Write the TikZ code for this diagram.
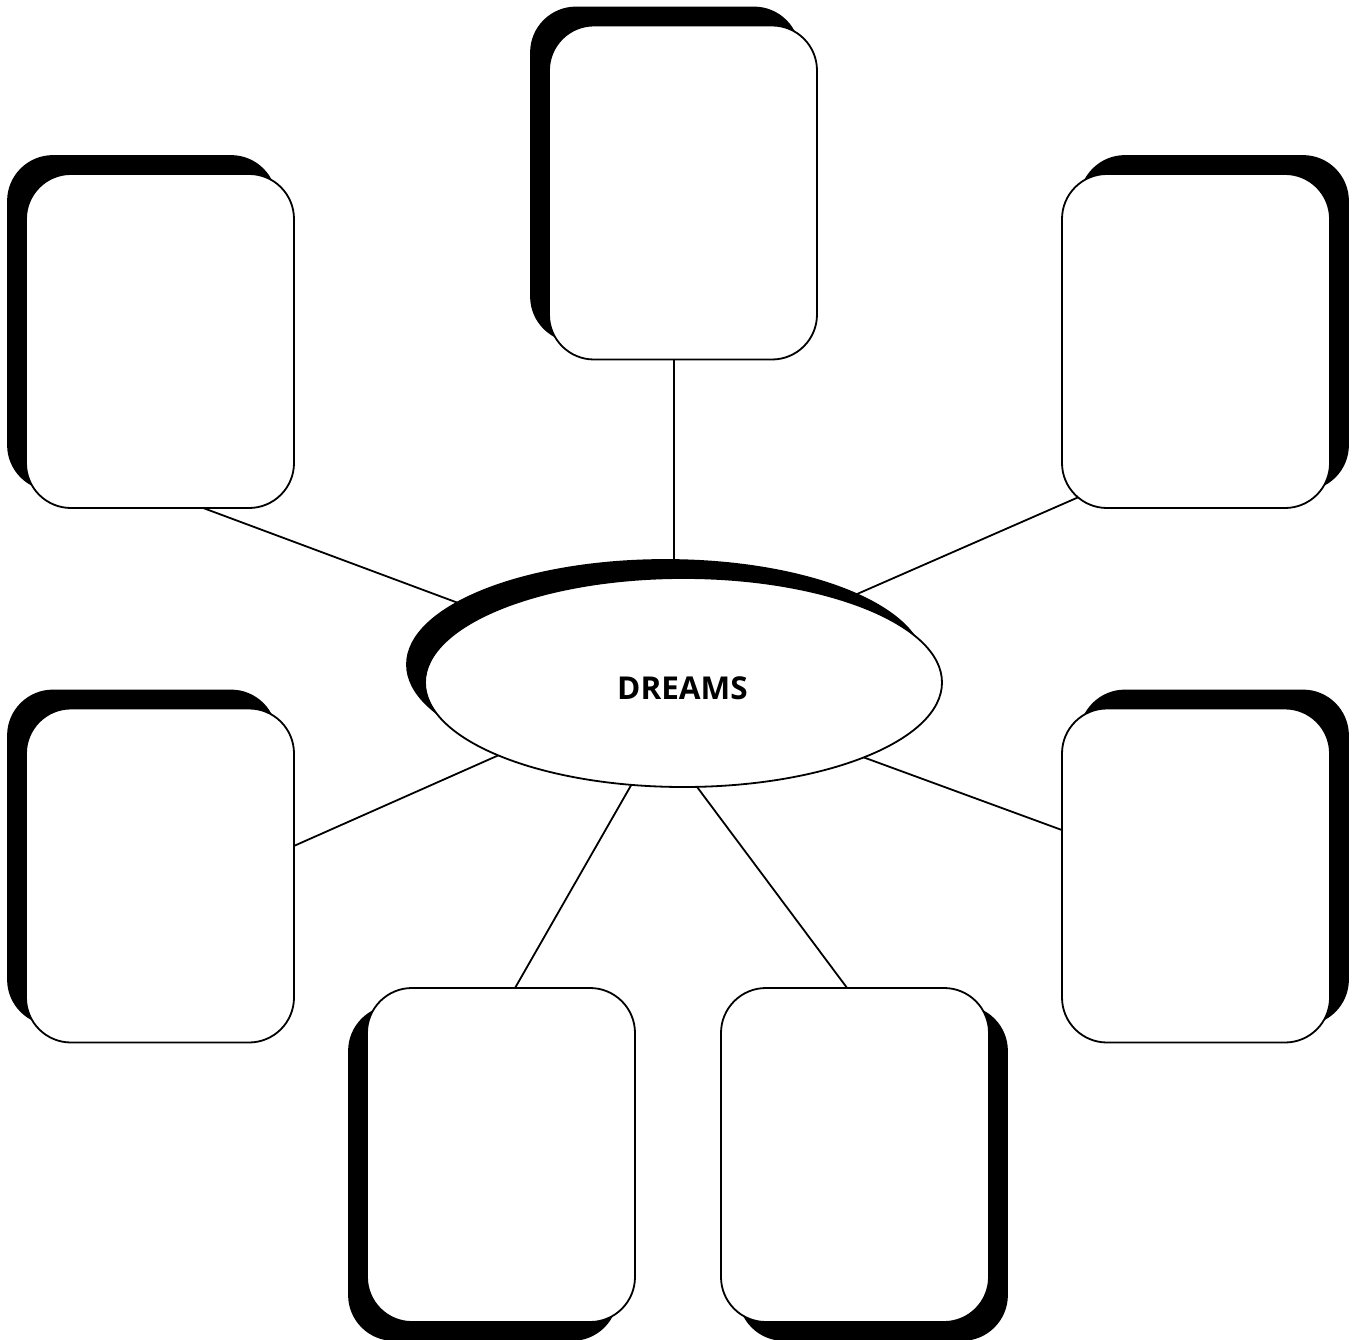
\documentclass[tikz,border=0pt]{standalone}
\usepackage{fontspec}
\setmainfont{Open Sans}
\usetikzlibrary{shapes.geometric,shadows,calc,backgrounds}
\begin{document}
\begin{tikzpicture}[x=1pt,y=-1pt,
  card/.style={draw=black, line width=1.8pt, fill=white, rounded corners=45pt,
    minimum width=268pt, minimum height=334pt, inner sep=0pt},
  shUL/.style={general shadow={fill=black, draw=black, shadow xshift=-18pt, shadow yshift=18pt}},
  shUR/.style={general shadow={fill=black, draw=black, shadow xshift=18pt, shadow yshift=18pt}},
  shDL/.style={general shadow={fill=black, draw=black, shadow xshift=-18pt, shadow yshift=-18pt}},
  shDR/.style={general shadow={fill=black, draw=black, shadow xshift=18pt, shadow yshift=-18pt}},
  hub/.style={ellipse, draw=black, line width=1.8pt, fill=white,
    minimum width=517pt, minimum height=209pt, inner sep=0pt},
  link/.style={draw=black, line width=1.8pt}]
\useasboundingbox (0,0) rectangle (1355,1340);
\node[card,shUL] (top) at (683,192.5) {};
\node[card,shUL] (tl) at (160,341) {};
\node[card,shUR] (tr) at (1196,341) {};
\node[card,shUL] (ml) at (160,875.5) {};
\node[card,shUR] (mr) at (1196,875.5) {};
\node[card,shDL] (bl) at (501,1155) {};
\node[card,shDR] (br) at (855,1155) {};
\node[hub,shUL] (dreams) at (683.5,682.5) {};
\node[font=\bfseries\fontsize{31.5}{38}\selectfont] (lbl) at ($(dreams.center)+(-1,6)$) {DREAMS};
\begin{scope}[on background layer]
\draw[link] ($(top.center)+(-9,137.5)$) -- ($(dreams.center)+(-9.5,-62.5)$);
\draw[link] ($(tl.center)+(-32,139)$) -- ($(dreams.center)+(-163.5,-56.5)$);
\draw[link] ($(tr.center)+(-76,138)$) -- ($(dreams.center)+(116.5,-63.5)$);
\draw[link] ($(ml.center)+(100,-14.5)$) -- ($(dreams.center)+(-123.5,45.5)$);
\draw[link] ($(mr.center)+(-96,-31.5)$) -- ($(dreams.center)+(116.5,51.5)$);
\draw[link] ($(bl.center)+(-4.3,-135)$) -- ($(dreams.center)+(-26.5,57.5)$);
\draw[link] ($(br.center)+(16,-135)$) -- ($(dreams.center)+(-21.5,57.5)$);
\end{scope}
\end{tikzpicture}
\end{document}
